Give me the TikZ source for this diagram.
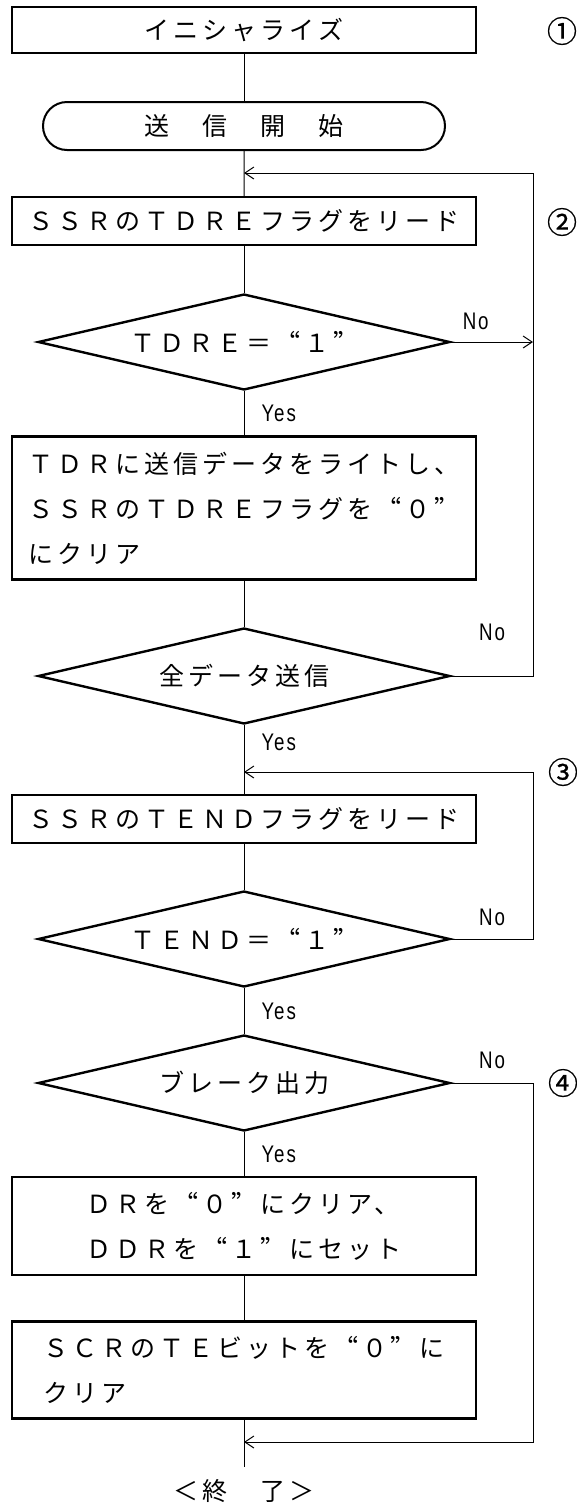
\documentclass[tikz,border=0pt]{standalone}
\usepackage{fontspec}
\setmainfont{Noto Sans CJK JP}
\newfontfamily\jpfont[LetterSpace=16,RawFeature={+fwid}]{Noto Sans CJK JP}
\newfontfamily\ynfont[LetterSpace=8,FakeStretch=0.78]{Liberation Sans}
\newfontfamily\numfont[FakeBold=0.6]{Noto Sans CJK JP}
\usetikzlibrary{shapes.geometric,shapes.misc,arrows.meta}

\tikzset{
  box/.style={draw, line width=2.4pt, minimum width=464pt, inner sep=0pt, align=left,
    font=\jpfont\fontsize{25}{45}\selectfont},
  term/.style={draw, rounded rectangle, line width=2pt, minimum width=402pt,
    minimum height=48pt, inner sep=0pt, font=\jpfont\fontsize{25}{45}\selectfont},
  dec/.style={draw, diamond, aspect=4.3, line width=2.4pt, minimum width=412pt,
    minimum height=96pt, inner sep=0pt, font=\jpfont\fontsize{25}{45}\selectfont},
  line/.style={line width=1pt},
  arr/.style={line, -{Straight Barb[length=9pt,width=12pt]}},
  yes/.style={right=17pt, inner sep=0pt, font=\ynfont\fontsize{24}{24}\selectfont},
  no/.style={inner sep=0pt, font=\ynfont\fontsize{24}{24}\selectfont},
  num/.style={inner sep=0pt, font=\numfont\fontsize{30}{30}\selectfont}
}

\begin{document}
\begin{tikzpicture}[x=1pt,y=-1pt]
\useasboundingbox (0,0) rectangle (576,1505);
\def\xA{244}
\def\xR{533}
% main column
\node[box, minimum height=46pt] (init) at (\xA,30) {イニシャライズ};
\node[num] (n1) at (562,31) {①};
\node[term] (start) at (\xA,126) {送　信　開　始};
\coordinate (j1) at (\xA,173);
\coordinate (r1) at (\xR,173);
\node[box, minimum height=48pt] (ssr1) at (\xA,221) {ＳＳＲのＴＤＲＥフラグをリード};
\node[num] (n2) at (562,222) {②};
\node[dec] (d1) at (\xA,342) {ＴＤＲＥ＝“１”};
\node[box, minimum height=143pt] (tdr) at (\xA,508) {ＴＤＲに送信データをライトし、\\ＳＳＲのＴＤＲＥフラグを“０”\\にクリア};
\node[dec] (d2) at (\xA,676) {全データ送信};
\coordinate (j2) at (\xA,772);
\node[num] (n3) at (563,772) {③};
\node[box, minimum height=48pt] (ssr2) at (\xA,819) {ＳＳＲのＴＥＮＤフラグをリード};
\node[dec] (d3) at (\xA,939) {ＴＥＮＤ＝“１”};
\node[dec] (d4) at (\xA,1083) {ブレーク出力};
\node[num] (n4) at (563,1083) {④};
\node[box, minimum height=98pt] (dr) at (\xA,1226) {ＤＲを“０”にクリア、\\ＤＤＲを“１”にセット};
\node[box, minimum height=97pt] (scr) at (\xA,1370) {ＳＣＲのＴＥビットを“０”に\\クリア};
\coordinate (j4) at (\xA,1442);
\coordinate (e) at (\xA,1467);
\node[font=\jpfont\fontsize{25}{25}\selectfont] (fin) at (\xA,1491) {＜終　了＞};
% connectors
\draw[line] (init) -- (start);
\draw[line] (start) -- (ssr1);
\draw[line] (ssr1) -- (d1);
\draw[line] (d1) -- node[yes]{Yes} (tdr);
\draw[line] (tdr) -- (d2);
\draw[line] (d2) -- node[yes, pos=0.25]{Yes} (ssr2);
\draw[line] (ssr2) -- (d3);
\draw[line] (d3) -- node[yes]{Yes} (d4);
\draw[line] (d4) -- node[yes]{Yes} (dr);
\draw[line] (dr) -- (scr);
\draw[line] (scr) -- (e);
% loops
\draw[arr] (d1.east) -- node[no, pos=0.3, above=12pt]{No} (d1.east -| r1);
\draw[arr] (d2.east) -- node[no, above=35pt]{No} (d2.east -| r1) |- (j1);
\draw[arr] (d3.east) -- node[no, above=13pt]{No} (d3.east -| r1) |- (j2);
\draw[arr] (d4.east) -- node[no, above=14pt]{No} (d4.east -| r1) |- (j4);
\end{tikzpicture}
\end{document}
